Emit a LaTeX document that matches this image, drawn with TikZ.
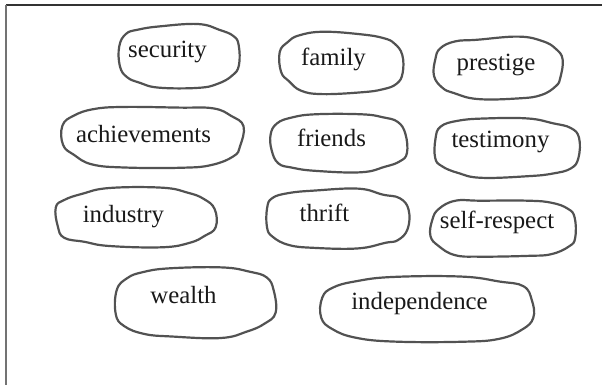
\documentclass[tikz,border=0pt]{standalone}
\usepackage{fontspec}
\setmainfont{Liberation Serif}
\usetikzlibrary{positioning}

% wobbly outline round a word; #2..#5 = left, right, up, down (px from the base line)
\newcommand{\blob}[5]{%
  \draw[blob line, shift={(#1.base)}]
    plot[smooth cycle, tension=.7, domain=11.25:348.75, samples=16, variable=\t]
    ({(#3-#2)/2 + (#2+#3)/2*sign(cos(\t))*abs(cos(\t))^.7 + 1.8*rand},
     {(#5-#4)/2 + (#4+#5)/2*sign(sin(\t))*abs(sin(\t))^.7 + 1.8*rand});%
}

\begin{document}
\begin{tikzpicture}[
    x=0.5pt, y=-0.5pt,
    word/.style={anchor=base, inner sep=0pt, font=\fontsize{12.4}{14}\selectfont, text=black!90},
    blob line/.style={draw=black!68, line width=1.1pt},
    top rule/.style={draw=black!80, line width=.8pt},
    side rule/.style={draw=black!55, line width=1.2pt}
]
   \pgfmathsetseed{11}
   \useasboundingbox (0,0) rectangle (602,385);

   % frame
   \draw[top rule] (6,5) -- (602,5);
   \draw[side rule] (6,5) -- (6,385);

   % words
   \node[word] (security) at (167.5,58) {security};
   \node[word] (family) at (333.5,66) {family};
   \node[word] (prestige) at (496,71) {prestige};
   \node[word] (achieve) at (143.5,143) {achievements};
   \node[word] (friends) at (331.5,147) {friends};
   \node[word] (testimony) at (500.5,148) {testimony};
   \node[word] (industry) at (123.5,222.5) {industry};
   \node[word] (thrift) at (324.5,221.5) {thrift};
   \node[word] (selfresp) at (497,229) {self-respect};
   \node[word] (wealth) at (183.5,304) {wealth};
   \node[word] (indep) at (419.5,310) {independence};

   % outlines
   \blob{security}{49.5}{71.5}{33}{29}
   \blob{family}{53.5}{69.5}{33}{27}
   \blob{prestige}{63}{67}{33}{27}
   \blob{achieve}{81.5}{99.5}{37}{24}
   \blob{friends}{62.5}{76.5}{34}{25}
   \blob{testimony}{67.5}{78.5}{30}{29}
   \blob{industry}{67.5}{91.5}{33.5}{24.5}
   \blob{thrift}{59.5}{83.5}{31.5}{26.5}
   \blob{selfresp}{67}{80}{30}{28}
   \blob{wealth}{67.5}{91.5}{37}{33}
   \blob{indep}{98.5}{115.5}{33}{31}
\end{tikzpicture}
\end{document}
